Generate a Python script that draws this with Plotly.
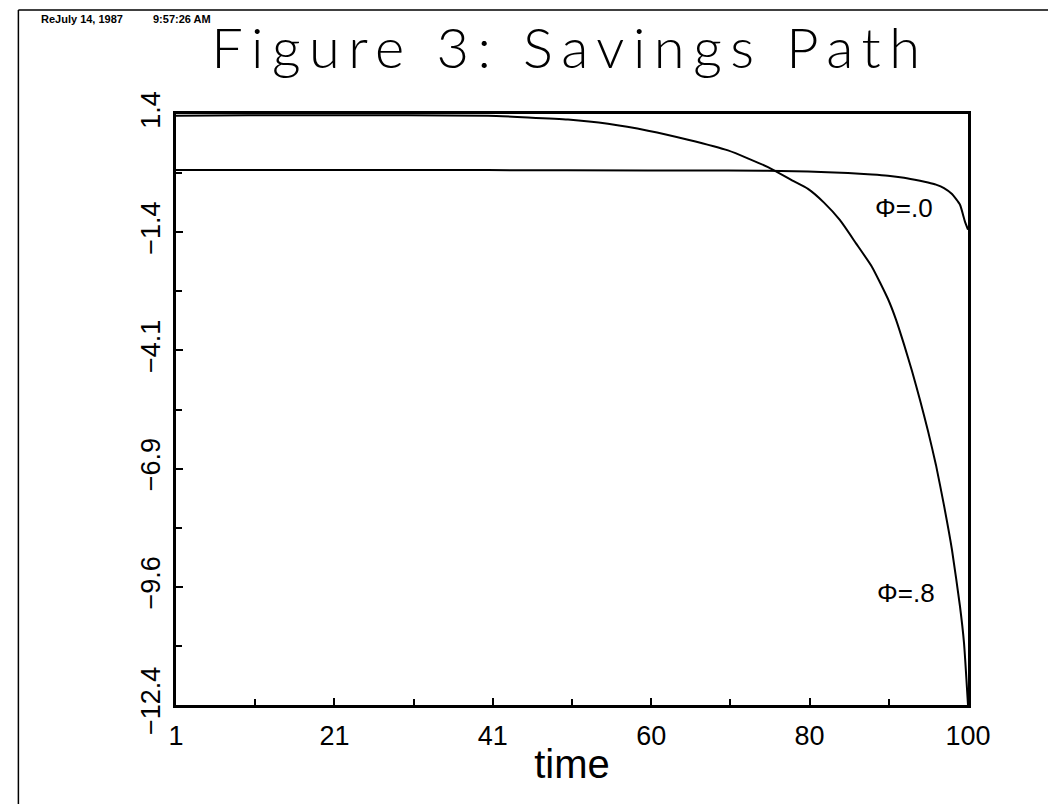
import plotly.graph_objects as go

# Data
time_08 = [1, 10, 20, 30, 40, 45, 50, 55, 60, 65, 70, 75, 78, 80, 82, 84, 86, 88,
           90, 91, 92, 93, 94, 95, 96, 97, 98, 99, 99.5, 100]
savings_08 = [1.36, 1.37, 1.37, 1.37, 1.36, 1.32, 1.27, 1.17, 1.01, 0.80, 0.55, 0.16,
              -0.15, -0.35, -0.67, -1.08, -1.62, -2.17, -2.92, -3.40, -3.98, -4.6,
              -5.28, -6.0, -6.80, -7.74, -8.78, -10.1, -10.95, -12.4]

time_00 = [1, 20, 40, 60, 70, 80, 85, 88, 90, 92, 94, 95, 96, 97, 98, 99, 99.6, 100]
savings_00 = [0.09, 0.09, 0.09, 0.08, 0.08, 0.06, 0.02, -0.01, -0.04, -0.09, -0.16,
              -0.20, -0.25, -0.33, -0.47, -0.72, -1.1, -1.3]

x_tick_vals = [1, 20.8, 40.6, 60.4, 80.2, 100]
x_tick_text = ["1", "21", "41", "60", "80", "100"]
y_tick_vals = [1.4, -1.36, -4.12, -6.88, -9.64, -12.4]
y_tick_text = ["1.4", "−1.4", "−4.1", "−6.9", "−9.6", "−12.4"]

fig = go.Figure()
fig.add_trace(go.Scatter(x=time_00, y=savings_00, mode="lines",
                         line=dict(color="black", width=2, shape="spline", smoothing=0.5),
                         showlegend=False))
fig.add_trace(go.Scatter(x=time_08, y=savings_08, mode="lines",
                         line=dict(color="black", width=2, shape="spline", smoothing=0.5),
                         showlegend=False))

font_main = "Liberation Sans, Arial, sans-serif"

fig.update_layout(
    width=1056, height=804,
    paper_bgcolor="white", plot_bgcolor="white",
    margin=dict(l=168, r=96, t=106, b=107),
    title=dict(text="Figure 3: Savings Path", x=0.532, xanchor="center",
               y=0.95, yanchor="middle",
               font=dict(family="Lato, sans-serif", size=56, color="black", weight=300)),
    xaxis=dict(range=[1, 100], showgrid=False, zeroline=False,
               showline=True, linecolor="black", linewidth=3, mirror=True,
               tickmode="array", tickvals=x_tick_vals, ticktext=x_tick_text,
               ticks="inside", ticklen=7, tickwidth=1.5, tickcolor="black",
               minor=dict(tick0=1, dtick=9.9, ticks="inside", ticklen=6,
                          tickwidth=1.5, tickcolor="black", showgrid=False),
               tickfont=dict(family=font_main, size=27, color="black"),
               ticklabelstandoff=5,
               title=dict(text="time", font=dict(family=font_main, size=40, color="black"),
                          standoff=0)),
    yaxis=dict(range=[-12.4, 1.4], showgrid=False, zeroline=False,
               showline=True, linecolor="black", linewidth=3, mirror=True,
               tickmode="array", tickvals=y_tick_vals, ticktext=y_tick_text,
               ticks="inside", ticklen=7, tickwidth=1.5, tickcolor="black",
               minor=dict(tick0=1.4, dtick=1.38, ticks="inside", ticklen=6,
                          tickwidth=1.5, tickcolor="black", showgrid=False),
               tickangle=-90,
               tickfont=dict(family=font_main, size=27, color="black"),
               ticklabelstandoff=2),
    annotations=[
        dict(x=92.0, y=-0.79, xref="x", yref="y", text="Φ=.0",
             showarrow=False, font=dict(family=font_main, size=26, color="black")),
        dict(x=92.3, y=-9.78, xref="x", yref="y", text="Φ=.8",
             showarrow=False, font=dict(family=font_main, size=26, color="black")),
        dict(x=-0.173, y=1.16, xref="paper", yref="paper", xanchor="left", yanchor="middle",
             text="<b>ReJuly 14, 1987</b>",
             showarrow=False, font=dict(family=font_main, size=11, color="black")),
        dict(x=-0.032, y=1.16, xref="paper", yref="paper", xanchor="left", yanchor="middle",
             text="<b>9:57:26 AM</b>",
             showarrow=False, font=dict(family=font_main, size=11, color="black")),
    ],
    shapes=[
        dict(type="line", xref="paper", yref="paper", x0=-0.199, x1=-0.199, y0=-0.19, y1=1.176,
             line=dict(color="black", width=1.5)),
        dict(type="line", xref="paper", yref="paper", x0=-0.199, x1=1.2, y0=1.176, y1=1.176,
             line=dict(color="black", width=1.5)),
    ],
)

post = """
var t = document.querySelector('.gtitle');
if (t) { t.style.letterSpacing = '8.5px'; }
"""
fig.write_html("out.html", post_script=post)
